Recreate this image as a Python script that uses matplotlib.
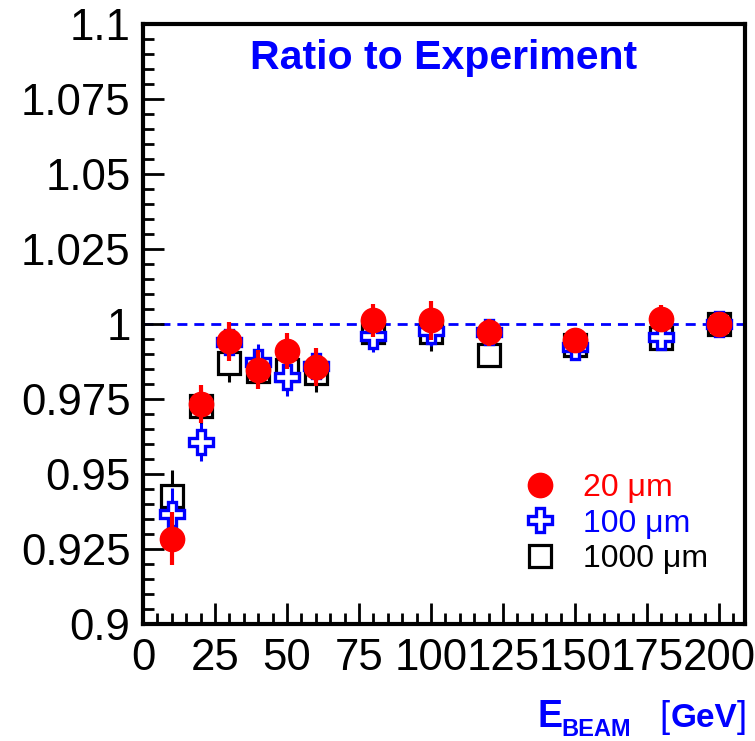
import matplotlib
matplotlib.use("Agg")
import matplotlib.pyplot as plt
from matplotlib.lines import Line2D
from matplotlib.ticker import MultipleLocator, FuncFormatter

plt.rcParams['font.family'] = ['Liberation Sans', 'DejaVu Sans']

# beam energies (GeV)
energy = [10, 20, 30, 40, 50, 60, 80, 100, 120, 150, 180, 200]

# ratio to experiment for the three cut values
r_20 = [0.9285, 0.9733, 0.9943, 0.9847, 0.991, 0.9857, 1.0013, 1.0012, 0.9973, 0.9947, 1.0017, 1.0]
e_20 = [0.0088, 0.0063, 0.0065, 0.0065, 0.006, 0.0063, 0.0055, 0.0065, 0.0045, 0.004, 0.0045, 0.0]

r_100 = [0.9367, 0.9607, 0.994, 0.9873, 0.9823, 0.986, 0.996, 0.9977, 0.9975, 0.9923, 0.9957, 1.0]
e_100 = [0.0087, 0.0063, 0.005, 0.006, 0.0063, 0.005, 0.0053, 0.005, 0.004, 0.004, 0.004, 0.0]

r_1000 = [0.9427, 0.9727, 0.987, 0.9843, 0.9847, 0.9837, 0.9973, 0.9973, 0.9897, 0.993, 0.9953, 1.0]
e_1000 = [0.0087, 0.006, 0.0063, 0.005, 0.005, 0.0063, 0.005, 0.0063, 0.004, 0.004, 0.004, 0.0]

labels = ["20 \u03bcm", "100 \u03bcm", "1000 \u03bcm"]

BLUE = '#0000ff'
RED = '#ff0000'

fig = plt.figure(figsize=(7.55, 7.41), dpi=100)
ax = fig.add_axes([143 / 755, 1 - 624 / 741, (745 - 143) / 755, (624 - 24) / 741])

ax.axhline(1.0, color=BLUE, lw=2, dashes=(3.6, 2.5), zorder=1)

sq = dict(marker='s', ms=16, mfc='white', mec='black', mew=2.3, ls='none')
pl = dict(marker='P', ms=17.5, mfc='white', mec=BLUE, mew=2.4, ls='none')
ci = dict(marker='o', ms=17.5, mfc=RED, mec=RED, ls='none')

ax.errorbar(energy, r_1000, yerr=e_1000, ecolor='black', elinewidth=2.2, capsize=0, zorder=2, **sq)
ax.errorbar(energy, r_100, yerr=e_100, ecolor=BLUE, elinewidth=2.2, capsize=0, zorder=3, **pl)
ax.errorbar(energy, r_20, yerr=e_20, ecolor=RED, elinewidth=3, capsize=0, zorder=4, **ci)

ax.set_xlim(0, 209)
ax.set_ylim(0.9, 1.1)
ax.xaxis.set_major_locator(MultipleLocator(25))
ax.xaxis.set_minor_locator(MultipleLocator(5))
ax.yaxis.set_major_locator(MultipleLocator(0.025))
ax.yaxis.set_minor_locator(MultipleLocator(0.005))
ax.yaxis.set_major_formatter(FuncFormatter(lambda v, p: "%g" % round(v, 4)))

ax.tick_params(which='both', direction='in', top=False, right=False, labelsize=31.5, width=2)
ax.tick_params(which='major', length=15)
ax.tick_params(which='minor', length=8)
ax.tick_params(axis='y', pad=9)
ax.tick_params(axis='x', pad=10)
for s in ax.spines.values():
    s.set_linewidth(3)

ax.text(0.5, 0.975, "Ratio to Experiment", transform=ax.transAxes, color=BLUE,
        fontsize=29.5, fontweight='bold', ha='center', va='top')

handles = [Line2D([], [], **ci), Line2D([], [], **pl), Line2D([], [], **sq)]
leg = ax.legend(handles, labels, loc='upper left', bbox_to_anchor=(0.633, 0.252),
                frameon=False, fontsize=23, handlelength=1.0, handletextpad=0.85,
                labelspacing=0.18, borderpad=0, borderaxespad=0)
for t, c in zip(leg.get_texts(), [RED, BLUE, 'black']):
    t.set_color(c)

# axis title pieces
fig.text(537 / 755, 1 - 727 / 741, "E", color=BLUE, fontsize=27, fontweight='bold',
         ha='left', va='baseline')
fig.text(561 / 755, 1 - 736 / 741, "BEAM", color=BLUE, fontsize=17, fontweight='bold',
         ha='left', va='baseline')
fig.text(659 / 755, 1 - 727 / 741, "[", color=BLUE, fontsize=26, ha='left', va='baseline')
fig.text(671 / 755, 1 - 727 / 741, "GeV", color=BLUE, fontsize=24, fontweight='bold',
         ha='left', va='baseline')
fig.text(737 / 755, 1 - 727 / 741, "]", color=BLUE, fontsize=26, ha='left', va='baseline')

fig.savefig("out.png", dpi=100)
